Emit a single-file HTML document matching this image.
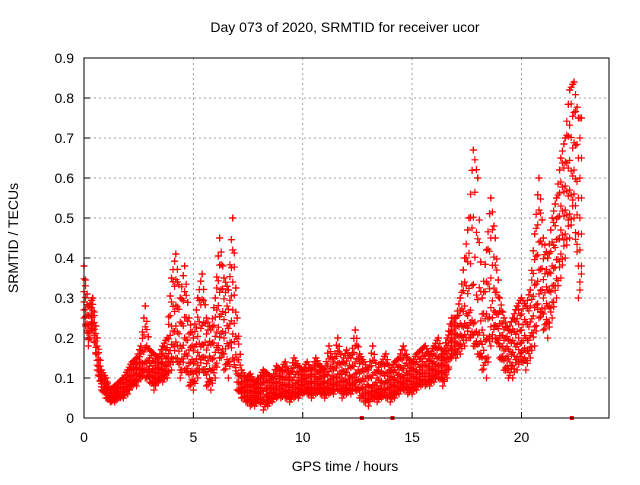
<!DOCTYPE html>
<html><head><meta charset="utf-8"><style>
body{margin:0;background:#fff}
svg text{font-family:"Liberation Sans",sans-serif;font-size:14px;fill:#000}
</style></head><body>
<svg id="chart" width="640" height="480" xmlns="http://www.w3.org/2000/svg">
<rect width="640" height="480" fill="#fff"/>
<text x="345" y="32" text-anchor="middle">Day 073 of 2020, SRMTID for receiver ucor</text>
<text transform="translate(18,238) rotate(-90)" text-anchor="middle">SRMTID / TECUs</text>
<text x="345" y="471" text-anchor="middle">GPS time / hours</text>
<g id="grid"></g><g id="marks"></g>
<rect x="84" y="58" width="525" height="360" fill="none" stroke="#000" stroke-width="1"/>
</svg>
<script>
const times=[0,0.2,0.4,0.6,0.8,1,1.2,1.4,1.6,1.8,2,2.2,2.4,2.6,2.8,3,3.2,3.4,3.6,3.8,4,4.2,4.4,4.6,4.8,5,5.2,5.4,5.6,5.8,6,6.2,6.4,6.6,6.8,7,7.2,7.4,7.6,7.8,8,8.2,8.4,8.6,8.8,9,9.2,9.4,9.6,9.8,10,10.2,10.4,10.6,10.8,11,11.2,11.4,11.6,11.8,12,12.2,12.4,12.6,12.8,13,13.2,13.4,13.6,13.8,14,14.2,14.4,14.6,14.8,15,15.2,15.4,15.6,15.8,16,16.2,16.4,16.6,16.8,17,17.2,17.4,17.6,17.8,18,18.2,18.4,18.6,18.8,19,19.2,19.4,19.6,19.8,20,20.2,20.4,20.6,20.8,21,21.2,21.4,21.6,21.8,22,22.2,22.4,22.6];
const highVals=[.38,.28,.30,.20,.12,.10,.07,.08,.09,.10,.12,.14,.15,.18,.28,.17,.16,.15,.18,.20,.35,.41,.30,.38,.25,.20,.30,.36,.25,.22,.30,.45,.35,.32,.50,.25,.12,.10,.11,.09,.10,.12,.11,.10,.13,.12,.14,.11,.15,.13,.12,.14,.12,.15,.13,.12,.18,.14,.20,.14,.17,.15,.22,.16,.14,.12,.18,.12,.14,.16,.12,.14,.15,.18,.15,.14,.16,.17,.18,.16,.18,.20,.16,.20,.25,.25,.30,.40,.50,.67,.60,.30,.42,.55,.45,.30,.25,.22,.25,.28,.30,.28,.32,.46,.60,.45,.40,.50,.55,.65,.70,.82,.84,.75];
const midVals=[.30,.22,.26,.15,.09,.08,.05,.06,.06,.07,.09,.10,.12,.13,.15,.12,.11,.12,.13,.14,.20,.25,.15,.22,.15,.12,.18,.20,.15,.13,.18,.28,.22,.20,.30,.12,.08,.07,.07,.06,.07,.08,.06,.07,.08,.08,.09,.07,.09,.08,.09,.09,.08,.10,.09,.08,.10,.09,.12,.09,.10,.09,.12,.10,.08,.07,.09,.07,.08,.10,.08,.09,.10,.11,.10,.10,.11,.12,.12,.12,.13,.14,.12,.15,.20,.20,.22,.25,.28,.25,.22,.20,.22,.30,.28,.22,.18,.16,.18,.20,.20,.18,.22,.30,.40,.32,.30,.35,.42,.50,.55,.60,.65,.50];
const lowVals=[.25,.18,.22,.12,.07,.05,.04,.04,.05,.05,.06,.08,.08,.10,.10,.09,.07,.09,.09,.10,.12,.15,.10,.12,.08,.07,.10,.12,.08,.07,.10,.15,.12,.10,.15,.07,.05,.04,.03,.03,.04,.02,.03,.04,.05,.05,.05,.04,.05,.05,.06,.06,.05,.06,.06,.05,.06,.06,.07,.05,.06,.06,.07,.05,.04,.03,.05,.04,.05,.05,.04,.05,.06,.07,.06,.06,.07,.08,.08,.08,.09,.10,.08,.10,.15,.15,.16,.18,.20,.18,.16,.12,.10,.18,.20,.15,.12,.10,.10,.12,.14,.12,.15,.18,.25,.22,.20,.25,.30,.35,.40,.45,.50,.30];
const zeroTimes=[12.7,14.1,22.3];
const xTicks=[0,5,10,15,20];
const yTicks=[0,0.1,0.2,0.3,0.4,0.5,0.6,0.7,0.8,0.9];
const NS="http://www.w3.org/2000/svg";
const X=t=>84+t*525/24, Y=v=>418-v*400;
const grid=document.getElementById('grid'), marks=document.getElementById('marks'), svg=document.getElementById('chart');
function mk(tag,a,parent){const e=document.createElementNS(NS,tag);for(const k in a)e.setAttribute(k,a[k]);parent.appendChild(e);return e;}
xTicks.forEach(t=>{
  const l=mk('line',{x1:X(t),x2:X(t),y1:58,y2:418,stroke:'#a0a0a0','stroke-dasharray':'2,3'},grid);
  
  
  mk('line',{x1:X(t),x2:X(t),y1:418,y2:412,stroke:'#000'},grid);
  const tx=mk('text',{x:X(t),y:442,'text-anchor':'middle'},svg);tx.textContent=t;
  
  
});
yTicks.forEach(v=>{
  const l=mk('line',{x1:84,x2:609,y1:Y(v),y2:Y(v),stroke:'#a0a0a0','stroke-dasharray':'2,3'},grid);
  
  
  mk('line',{x1:84,x2:90,y1:Y(v),y2:Y(v),stroke:'#000'},grid);
  const tx=mk('text',{x:74,y:Y(v)+5,'text-anchor':'end'},svg);tx.textContent=v===0?'0':v.toFixed(1);
  
  
});
function plus(t,v){
  const x=X(t),y=Y(v);
  const p=mk('path',{d:`M${x-3.5},${y}h7M${x},${y-3.5}v7`,stroke:'#f00','stroke-width':1.2},marks);
  
  
}
const fracs=[0,0.2,0.4,0.6,0.8,1];
const offs=[0,0.07,0.14];
times.forEach((t,i)=>{
  const j=Math.min(i+1,times.length-1);
  offs.forEach((o,k)=>{
    const w=o/0.2;
    const lo=lowVals[i]*(1-w)+lowVals[j]*w, md=midVals[i]*(1-w)+midVals[j]*w, hi=highVals[i]*(1-w)+highVals[j]*w;
    fracs.forEach((f,m)=>{
      const ff=(f+k*0.1)%1.05;
      const v=ff<0.5?lo+(md-lo)*ff*2:md+(hi-md)*(ff-0.5)*2;
      plus(t+o,v);
    });
    plus(t+o,hi);
  });
});
zeroTimes.forEach(t=>{
  const r=mk('rect',{x:X(t)-2,y:416,width:4,height:4,fill:'#f00'},marks);
  
  
});
</script>
</body></html>
